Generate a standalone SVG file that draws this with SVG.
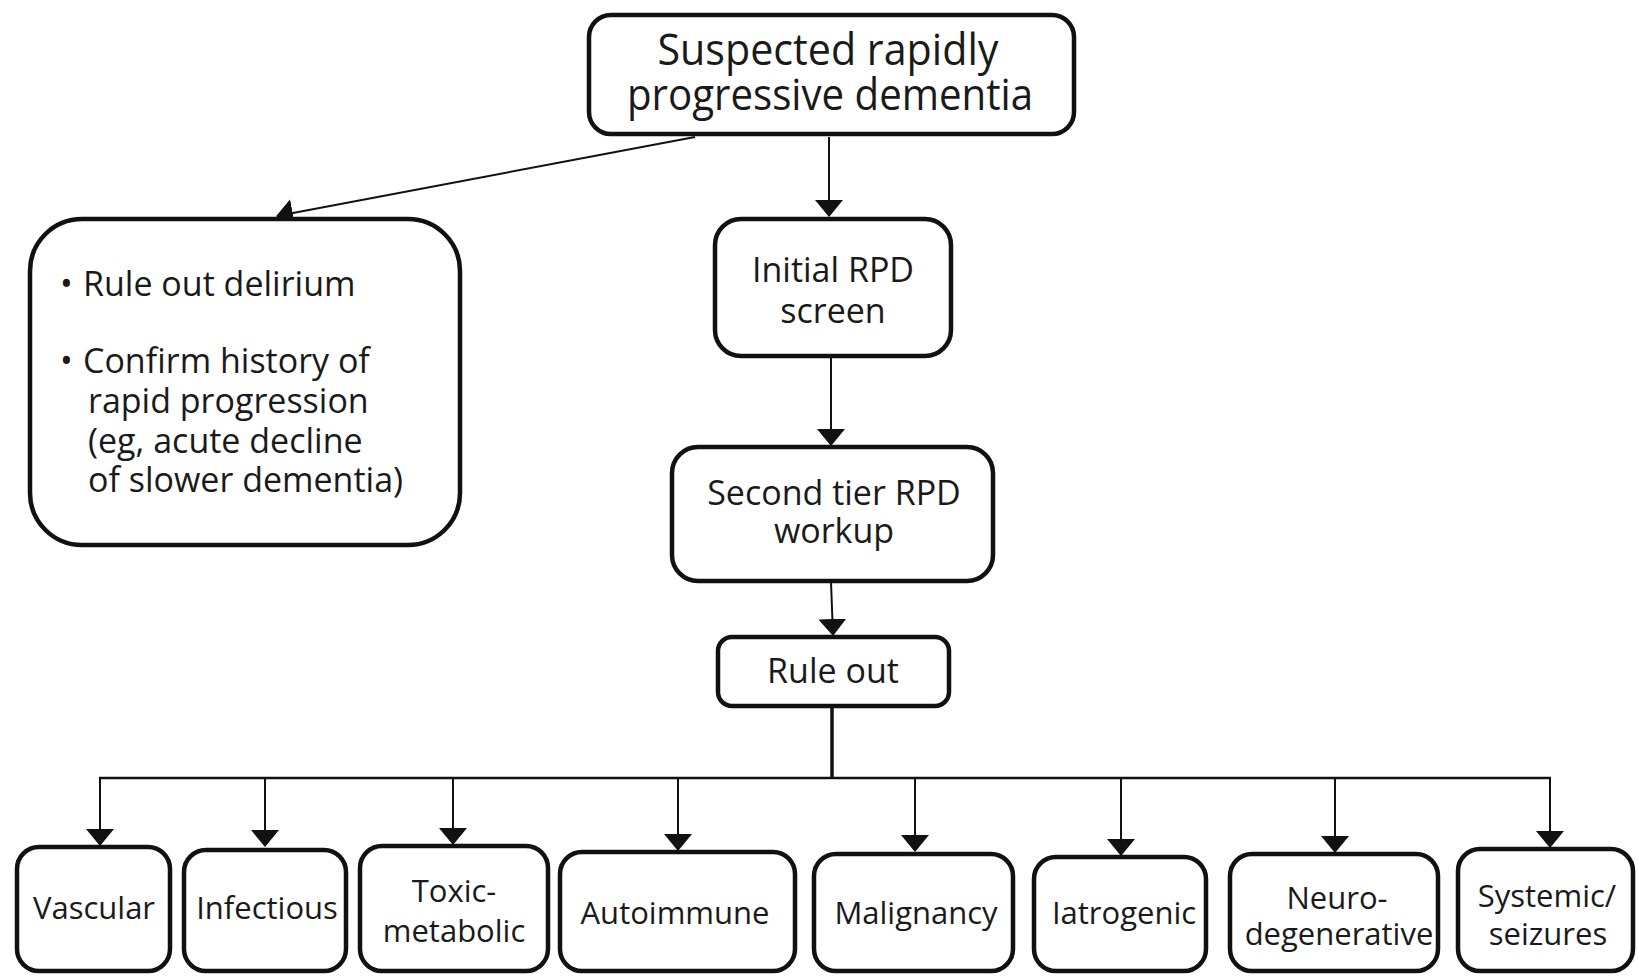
<svg xmlns="http://www.w3.org/2000/svg" width="1638" height="977" viewBox="0 0 1638 977">
<style>
.box{fill:#fff;stroke:#111;stroke-width:4.5}
.t{font-family:"Open Sans","Noto Sans","Liberation Sans",sans-serif;fill:#1a1a1a;text-anchor:middle}
.tl{font-family:"Open Sans","Noto Sans","Liberation Sans",sans-serif;fill:#1a1a1a}
.c{fill:none;stroke:#111;stroke-width:2}
.ca{fill:none;stroke:#111;stroke-width:2;marker-end:url(#arr)}
</style>
<defs>
<marker id="arr" markerUnits="userSpaceOnUse" viewBox="0 0 17 28" refX="16" refY="14" markerWidth="17" markerHeight="28" orient="auto">
<path d="M0,0 L17,14 L0,28 Z" fill="#111"/>
</marker>
</defs>
<rect width="1638" height="977" fill="#fff"/>
<g id="connectors">
<line class="ca" x1="829" y1="137" x2="829" y2="216"/>
<line class="ca" x1="695" y1="137" x2="277" y2="216"/>
<line class="ca" x1="831" y1="357" x2="831" y2="445"/>
<line class="ca" x1="831" y1="582" x2="833" y2="635"/>
<line class="c" x1="832" y1="707" x2="832" y2="779" style="stroke-width:3.5"/>
<line class="c" x1="99" y1="778" x2="1551" y2="778" style="stroke-width:2.5"/>
<line class="ca" x1="100" y1="778" x2="100" y2="845"/>
<line class="ca" x1="265" y1="778" x2="265" y2="846"/>
<line class="ca" x1="453" y1="778" x2="453" y2="844"/>
<line class="ca" x1="678" y1="778" x2="678" y2="850"/>
<line class="ca" x1="915" y1="778" x2="915" y2="851"/>
<line class="ca" x1="1121" y1="778" x2="1121" y2="855"/>
<line class="ca" x1="1335" y1="778" x2="1335" y2="852"/>
<line class="ca" x1="1550" y1="778" x2="1550" y2="847"/>
</g>
<g id="n-start">
<rect class="box" x="589" y="15" width="485" height="119" rx="22"/>
<text class="t" font-size="44"><tspan x="828" y="65" textLength="341" lengthAdjust="spacingAndGlyphs">Suspected rapidly</tspan><tspan x="830" y="110" textLength="406" lengthAdjust="spacingAndGlyphs">progressive dementia</tspan></text>
</g>
<g id="n-delirium">
<rect class="box" x="30" y="219" width="430" height="326" rx="52"/>
<text class="tl" font-size="34"><tspan x="60" y="296">•</tspan><tspan x="83" y="296">Rule out delirium</tspan><tspan x="60" y="373">•</tspan><tspan x="83" y="373">Confirm history of</tspan><tspan x="88" y="413">rapid progression</tspan><tspan x="88" y="453">(eg, acute decline</tspan><tspan x="88" y="492">of slower dementia)</tspan></text>
</g>
<g id="n-initial">
<rect class="box" x="715" y="219" width="236" height="137" rx="26"/>
<text class="t" font-size="34"><tspan x="833" y="282">Initial RPD</tspan><tspan x="833" y="323">screen</tspan></text>
</g>
<g id="n-second">
<rect class="box" x="672" y="447" width="321" height="134" rx="26"/>
<text class="t" font-size="34"><tspan x="834" y="505">Second tier RPD</tspan><tspan x="834" y="543">workup</tspan></text>
</g>
<g id="n-ruleout">
<rect class="box" x="718" y="637" width="231" height="69" rx="14"/>
<text class="t" font-size="34" x="833" y="683">Rule out</text>
</g>
<g id="n-vascular">
<rect class="box" x="17" y="847" width="153" height="124" rx="22"/>
<text class="t" font-size="31" x="94" y="919">Vascular</text>
</g>
<g id="n-infectious">
<rect class="box" x="184" y="850" width="162" height="121" rx="22"/>
<text class="t" font-size="31" x="267" y="919">Infectious</text>
</g>
<g id="n-toxic">
<rect class="box" x="360" y="846" width="188" height="125" rx="22"/>
<text class="t" font-size="31"><tspan x="454" y="902">Toxic-</tspan><tspan x="454" y="942">metabolic</tspan></text>
</g>
<g id="n-autoimmune">
<rect class="box" x="560" y="852" width="235" height="119" rx="22"/>
<text class="t" font-size="31" x="675" y="924">Autoimmune</text>
</g>
<g id="n-malignancy">
<rect class="box" x="814" y="854" width="199" height="117" rx="22"/>
<text class="t" font-size="31" x="916" y="924">Malignancy</text>
</g>
<g id="n-iatrogenic">
<rect class="box" x="1034" y="857" width="172" height="114" rx="22"/>
<text class="t" font-size="31" x="1124" y="924">Iatrogenic</text>
</g>
<g id="n-neuro">
<rect class="box" x="1230" y="854" width="208" height="117" rx="22"/>
<text class="t" font-size="31"><tspan x="1337" y="909">Neuro-</tspan><tspan x="1339" y="945">degenerative</tspan></text>
</g>
<g id="n-systemic">
<rect class="box" x="1458" y="849" width="175" height="122" rx="22"/>
<text class="t" font-size="31"><tspan x="1547" y="907">Systemic/</tspan><tspan x="1548" y="945">seizures</tspan></text>
</g>
</svg>
